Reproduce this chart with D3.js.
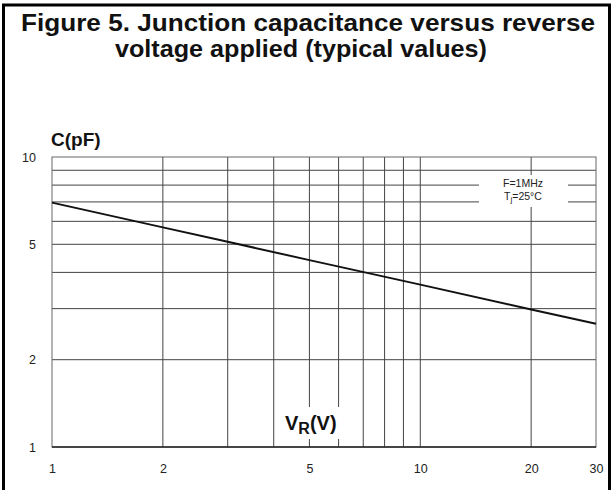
<!DOCTYPE html>
<html>
<head>
<meta charset="utf-8">
<script src="https://cdn.jsdelivr.net/npm/d3@7"></script>
<style>
  body { margin: 0; background: #fff; }
  svg { display: block; }
  text { font-family: "Liberation Sans", Arial, Helvetica, sans-serif; }
</style>
</head>
<body>
<svg id="chart" width="612" height="490"></svg>
<script>
// ---- data ----
const titleLines = ["Figure 5. Junction capacitance versus reverse", "voltage applied (typical values)"];
const voltage = [1, 2, 3, 5, 10, 20, 30];              // V_R (V)
const capacitance = [6.96, 5.72, 5.10, 4.41, 3.63, 2.98, 2.66]; // C (pF)
const xTickValues = [1, 2, 5, 10, 20, 30];
const yTickValues = [1, 2, 5, 10];
const xGridValues = [2, 3, 4, 5, 6, 7, 8, 9, 10, 20];
const yGridValues = [2, 3, 4, 5, 6, 7, 8, 9];
const legendLines = ["F=1MHz", "Tj=25°C"];

const svg = d3.select("#chart");
const m = { left: 52, right: 596, top: 157, bottom: 447 };

const x = d3.scaleLog().domain([1, 30]).range([m.left, m.right]);
const y = d3.scaleLog().domain([1, 10]).range([m.bottom, m.top]);

// outer frame
svg.append("rect").attr("x", 3.5).attr("y", 5).attr("width", 606).attr("height", 500)
  .attr("fill", "none").attr("stroke", "#000").attr("stroke-width", 3);

// title
const t1 = svg.append("text").attr("x", 308).attr("y", 31).attr("text-anchor", "middle")
  .attr("font-size", 24).attr("font-weight", "bold").attr("fill", "#111").text(titleLines[0]);
const t2 = svg.append("text").attr("x", 301).attr("y", 57).attr("text-anchor", "middle")
  .attr("font-size", 24).attr("font-weight", "bold").attr("fill", "#111").text(titleLines[1]);
[[t1, 574], [t2, 372]].forEach(([t, w]) => {
  t.attr("textLength", w).attr("lengthAdjust", "spacingAndGlyphs");
});

// grid
const grid = svg.append("g").attr("stroke", "#444").attr("stroke-width", 1);
grid.selectAll("line.h").data(yGridValues).join("line")
  .attr("x1", m.left).attr("x2", m.right)
  .attr("y1", d => y(d)).attr("y2", d => y(d));
grid.selectAll("line.v").data(xGridValues).join("line")
  .attr("y1", m.top).attr("y2", m.bottom)
  .attr("x1", d => x(d)).attr("x2", d => x(d));

// plot border
svg.append("rect").attr("x", m.left).attr("y", m.top)
  .attr("width", m.right - m.left).attr("height", m.bottom - m.top)
  .attr("fill", "none").attr("stroke", "#666").attr("stroke-width", 1);
svg.append("line").attr("x1", m.left).attr("x2", m.right).attr("y1", m.bottom).attr("y2", m.bottom)
  .attr("stroke", "#222").attr("stroke-width", 1.5);

// axes (labels only, via d3 axis)
const xAxis = svg.append("g").attr("transform", `translate(0,${m.bottom + 14})`)
  .call(d3.axisBottom(x).tickValues(xTickValues).tickFormat(d3.format("d")).tickSize(0));
const yAxis = svg.append("g").attr("transform", `translate(${m.left - 13},0)`)
  .call(d3.axisLeft(y).tickValues(yTickValues).tickFormat(d3.format("d")).tickSize(0));
[xAxis, yAxis].forEach(a => {
  a.select(".domain").remove();
  a.selectAll("text").attr("font-size", 12.5).attr("fill", "#222")
    .attr("font-family", "'Liberation Sans', Arial, sans-serif");
});

// white boxes behind labels
svg.append("rect").attr("x", 280).attr("y", 407).attr("width", 64).attr("height", 32).attr("fill", "#fff");
svg.append("rect").attr("x", 479).attr("y", 175).attr("width", 89).attr("height", 32).attr("fill", "#fff");

// curve
const line = d3.line().x(d => x(d[0])).y(d => y(d[1]));
svg.append("path").datum(voltage.map((v, i) => [v, capacitance[i]]))
  .attr("d", line).attr("fill", "none").attr("stroke", "#111").attr("stroke-width", 2);

// axis titles
svg.append("text").attr("x", 51).attr("y", 146).attr("font-size", 19).attr("font-weight", "bold")
  .attr("fill", "#111").text("C(pF)");
const vr = svg.append("text").attr("x", 285).attr("y", 430).attr("font-size", 20).attr("font-weight", "bold").attr("fill", "#111");
vr.append("tspan").text("V");
vr.append("tspan").attr("dy", 4).attr("font-size", 16).text("R");
vr.append("tspan").attr("dy", -4).text("(V)");

// legend
svg.append("text").attr("x", 523).attr("y", 187).attr("text-anchor", "middle")
  .attr("font-size", 10.5).attr("fill", "#222").text(legendLines[0]);
const lg = svg.append("text").attr("x", 523).attr("y", 200).attr("text-anchor", "middle")
  .attr("font-size", 10.5).attr("fill", "#222");
lg.append("tspan").text("T");
lg.append("tspan").attr("dy", 2).attr("font-size", 8).text("j");
lg.append("tspan").attr("dy", -2).text(legendLines[1].slice(2));
</script>
</body>
</html>
